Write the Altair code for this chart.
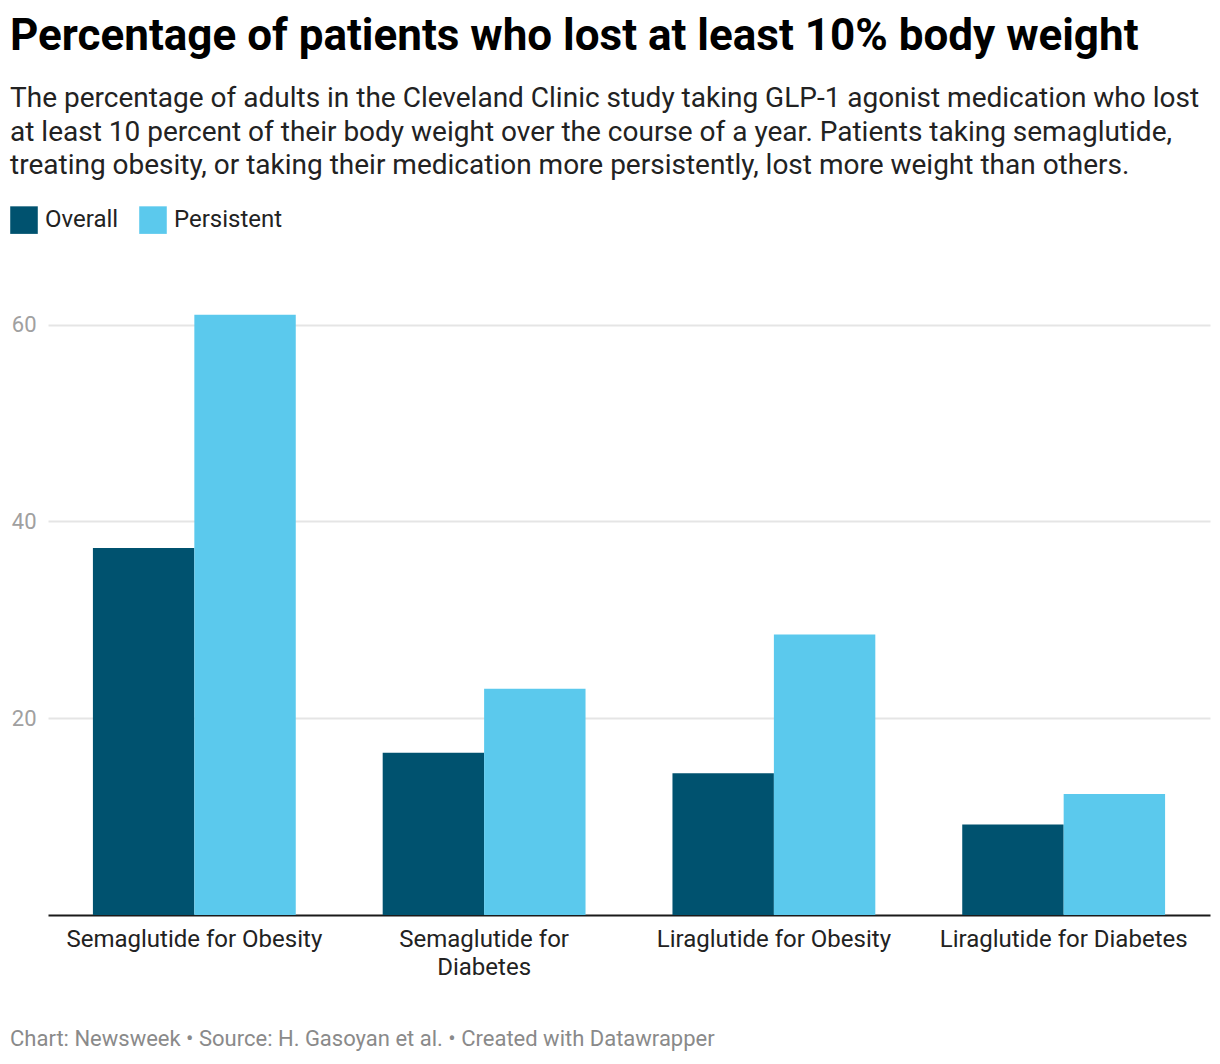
import altair as alt
import pandas as pd

categories = ["Semaglutide for Obesity", "Semaglutide for Diabetes",
              "Liraglutide for Obesity", "Liraglutide for Diabetes"]
series = ["Overall", "Persistent"]
overall = [37.3, 16.5, 14.4, 9.2]
persistent = [61.0, 23.0, 28.5, 12.3]
colors = ["#00526f", "#5bc9ed"]
y_ticks = [20, 40, 60]

title_text = "Percentage of patients who lost at least 10% body weight"
subtitle_lines = [
    "The percentage of adults in the Cleveland Clinic study taking GLP-1 agonist medication who lost",
    "at least 10 percent of their body weight over the course of a year. Patients taking semaglutide,",
    "treating obesity, or taking their medication more persistently, lost more weight than others.",
]
footer = "Chart: Newsweek \u2022 Source: H. Gasoyan et al. \u2022 Created with Datawrapper"

rows = []
for c, o, p in zip(categories, overall, persistent):
    rows.append({"category": c, "series": series[0], "value": o})
    rows.append({"category": c, "series": series[1], "value": p})
df = pd.DataFrame(rows)

FONT = "Roboto"
W, H = 1162, 610

bars = alt.Chart(df).mark_bar().encode(
    x=alt.X("category:N", sort=categories,
            scale=alt.Scale(domain=categories, paddingInner=0.3, paddingOuter=0.155),
            axis=alt.Axis(title=None, labelAngle=0, domain=True, domainColor="#1a1a1a",
                          domainWidth=2, ticks=False, labelPadding=12, labelFontSize=24,
                          labelColor="#222222", labelFont=FONT, labelLineHeight=28,
                          labelBaseline="top", labelLimit=0,
                          labelExpr="datum.label == 'Semaglutide for Diabetes' ? ['Semaglutide for', 'Diabetes'] : datum.label")),
    xOffset=alt.XOffset("series:N", sort=series, scale=alt.Scale(paddingInner=0)),
    y=alt.Y("value:Q", scale=alt.Scale(domain=[0, 62], nice=False),
            axis=alt.Axis(title=None, values=y_ticks, domain=False, ticks=False,
                          grid=True, gridColor="#e5e5e5", gridWidth=2,
                          labelFontSize=22, labelColor="#a0a0a0", labelFont=FONT,
                          labelPadding=12, minExtent=38, maxExtent=38)),
    color=alt.Color("series:N", sort=series,
                    scale=alt.Scale(domain=series, range=colors),
                    legend=alt.Legend(title=None, orient="none", legendX=-38, legendY=-99,
                                      direction="horizontal", symbolType="square",
                                      symbolSize=760, symbolStrokeWidth=0,
                                      labelFontSize=24, labelFont=FONT,
                                      labelColor="#222222", labelOffset=7,
                                      columnPadding=20)),
)

foot = alt.Chart(pd.DataFrame({"t": [footer]})).mark_text(
    align="left", baseline="middle", fontSize=22, font=FONT, color="#8a8a8a"
).encode(x=alt.value(-38), y=alt.value(734), text="t:N")

chart = alt.layer(bars, foot).properties(
    width=W, height=H, background="#ffffff",
    padding={"left": 10, "right": 10, "top": 15, "bottom": 14},
    title=alt.TitleParams(
        text=title_text, subtitle=subtitle_lines, anchor="start", frame="bounds",
        font=FONT, fontSize=44, fontWeight="bold", color="#000000",
        subtitleFont=FONT, subtitleFontSize=28, subtitleColor="#222222",
        subtitleLineHeight=33.5, subtitlePadding=26, offset=26,
    ),
).configure_view(stroke="transparent", strokeWidth=0)

chart.save("out.html", embed_options={"renderer": "svg", "actions": False})
